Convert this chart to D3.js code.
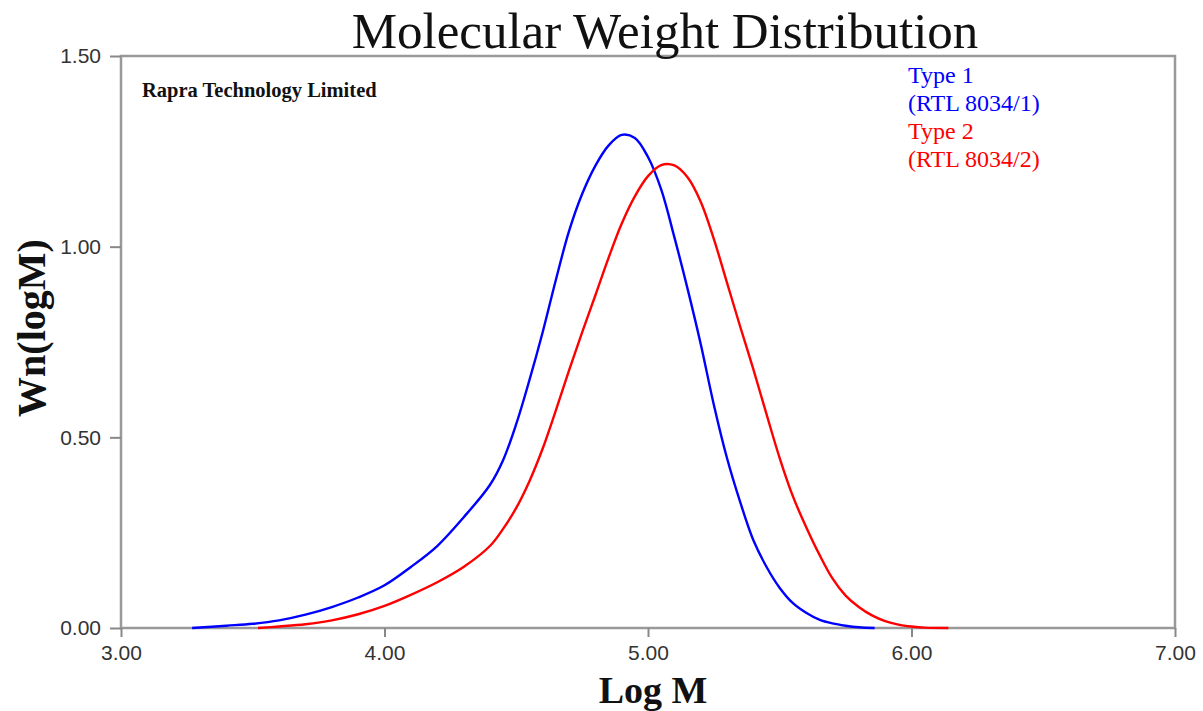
<!DOCTYPE html>
<meta charset="utf-8">
<script src="https://d3js.org/d3.v7.min.js"></script>
<style>
  body { margin: 0; background: #fff; }
</style>
<div id="my_dataviz"></div>
<script>

// chart values
var type1LogM = [3.27, 3.40, 3.50, 3.60, 3.70, 3.80, 3.90, 4.00, 4.10, 4.20, 4.30, 4.40, 4.45, 4.50, 4.55, 4.60, 4.65, 4.70, 4.75, 4.80, 4.85, 4.90, 4.95, 5.00, 5.05, 5.10, 5.15, 5.20, 5.25, 5.30, 5.35, 5.40, 5.45, 5.50, 5.55, 5.60, 5.65, 5.70, 5.75, 5.80, 5.86];
var type1Wn   = [0.000, 0.006, 0.011, 0.020, 0.035, 0.055, 0.080, 0.112, 0.160, 0.215, 0.290, 0.375, 0.440, 0.535, 0.650, 0.775, 0.912, 1.040, 1.138, 1.212, 1.265, 1.293, 1.285, 1.235, 1.150, 1.025, 0.890, 0.745, 0.585, 0.445, 0.330, 0.230, 0.160, 0.105, 0.065, 0.040, 0.022, 0.012, 0.006, 0.002, 0.000];

var type2LogM = [3.52, 3.60, 3.70, 3.80, 3.90, 4.00, 4.10, 4.20, 4.30, 4.40, 4.45, 4.50, 4.55, 4.60, 4.65, 4.70, 4.75, 4.80, 4.85, 4.90, 4.95, 5.00, 5.05, 5.10, 5.15, 5.20, 5.25, 5.30, 5.35, 5.40, 5.45, 5.50, 5.55, 5.60, 5.65, 5.70, 5.75, 5.80, 5.85, 5.90, 5.95, 6.00, 6.05, 6.14];
var type2Wn   = [0.000, 0.004, 0.010, 0.020, 0.036, 0.058, 0.087, 0.120, 0.160, 0.215, 0.260, 0.315, 0.385, 0.470, 0.570, 0.675, 0.775, 0.872, 0.970, 1.060, 1.132, 1.185, 1.214, 1.213, 1.182, 1.118, 1.020, 0.905, 0.790, 0.678, 0.560, 0.445, 0.345, 0.265, 0.193, 0.130, 0.085, 0.055, 0.033, 0.018, 0.009, 0.004, 0.001, 0.000];

var xTicks = [3, 4, 5, 6, 7];
var yTicks = [0, 0.5, 1.0, 1.5];
var legendLines = ["Type 1", "(RTL 8034/1)", "Type 2", "(RTL 8034/2)"];

// set the dimensions and margins of the graph
var margin = {top: 56, right: 28, bottom: 83, left: 121},
  width = 1203 - margin.left - margin.right,
  height = 711 - margin.top - margin.bottom;

var svg = d3.select("#my_dataviz")
.append("svg")
  .attr("width", 1203)
  .attr("height", 711)
  .style("font-family", "'Liberation Serif', 'Times New Roman', serif");

var g = svg.append("g")
  .attr("transform", "translate(" + margin.left + "," + margin.top + ")");

// scales
var x = d3.scaleLinear().domain([3, 7]).range([0, width]);
var y = d3.scaleLinear().domain([0, 1.5]).range([height, 0]);

var frameColor = "#999";

// frame
g.append("rect")
  .attr("x", 0).attr("y", 0)
  .attr("width", width).attr("height", height)
  .attr("fill", "none")
  .attr("stroke", frameColor)
  .attr("stroke-width", 2.5);

// X axis
var xAxis = g.append("g")
  .attr("transform", "translate(0," + height + ")")
  .call(d3.axisBottom(x).tickValues(xTicks).tickSize(9).tickPadding(8)
    .tickFormat(d3.format(".2f")));
xAxis.select(".domain").remove();
xAxis.selectAll("line").attr("stroke", "#888").attr("stroke-width", 2);
xAxis.selectAll("text")
  .style("font-family", "'Liberation Sans', Arial, sans-serif")
  .style("font-size", "21px")
  .attr("fill", "#333");

// Y axis
var yAxis = g.append("g")
  .call(d3.axisLeft(y).tickValues(yTicks).tickSize(11).tickPadding(9)
    .tickFormat(d3.format(".2f")));
yAxis.select(".domain").remove();
yAxis.selectAll("line").attr("stroke", "#888").attr("stroke-width", 2);
yAxis.selectAll("text")
  .style("font-family", "'Liberation Sans', Arial, sans-serif")
  .style("font-size", "21px")
  .attr("fill", "#333");

// lines
var line = d3.line()
  .x(function(d) { return x(d[0]); })
  .y(function(d) { return y(d[1]); })
  .curve(d3.curveCatmullRom.alpha(0.5));

var series = [
  {color: "#0000ff", points: d3.zip(type1LogM, type1Wn)},
  {color: "#ff0000", points: d3.zip(type2LogM, type2Wn)}
];

g.selectAll(".curve")
  .data(series)
  .enter()
  .append("path")
    .attr("class", "curve")
    .attr("d", function(d) { return line(d.points); })
    .attr("fill", "none")
    .attr("stroke", function(d) { return d.color; })
    .attr("stroke-width", 2.4);

// title
svg.append("text")
  .attr("x", 665)
  .attr("y", 48)
  .attr("text-anchor", "middle")
  .style("font-size", "51px")
  .attr("fill", "#111")
  .text("Molecular Weight Distribution");

// axis titles
svg.append("text")
  .attr("x", 653)
  .attr("y", 703)
  .attr("text-anchor", "middle")
  .style("font-size", "38px")
  .style("font-weight", "bold")
  .attr("fill", "#111")
  .text("Log M");

svg.append("text")
  .attr("transform", "translate(45,328) rotate(-90)")
  .attr("text-anchor", "middle")
  .style("font-size", "40px")
  .style("font-weight", "bold")
  .attr("fill", "#111")
  .text("Wn(logM)");

// company note
svg.append("text")
  .attr("x", 142)
  .attr("y", 97)
  .style("font-size", "20.5px")
  .style("font-weight", "bold")
  .attr("fill", "#111")
  .text("Rapra Technology Limited");

// legend
var legendColors = ["#0000ff", "#0000ff", "#ff0000", "#ff0000"];
var legendY = [83, 111, 139, 167];
svg.selectAll(".legend")
  .data(legendLines)
  .enter()
  .append("text")
    .attr("class", "legend")
    .attr("x", 908)
    .attr("y", function(d, i) { return legendY[i]; })
    .style("font-size", "24px")
    .attr("fill", function(d, i) { return legendColors[i]; })
    .text(function(d) { return d; });

</script>
